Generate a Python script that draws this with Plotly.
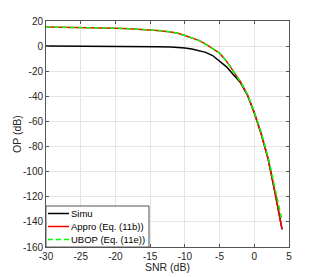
import plotly.graph_objects as go

snr = [-30, -28, -26, -24, -22, -20, -18, -16, -14, -12, -11, -10, -9, -8, -7, -6, -5, -4, -3, -2, -1, 0, 1, 2, 3, 4]
simu = [0.0, 0.0, -0.05, -0.1, -0.15, -0.2, -0.3, -0.4, -0.5, -0.7, -1.0, -1.5, -2.3, -3.5, -5.0, -7.5, -12.0, -16.5, -22.8, -29.0, -38.8, -53, -70, -90, -117, -146]
appro = [15.2, 15.1, 15.0, 14.8, 14.6, 14.3, 13.9, 13.3, 12.5, 11.3, 10.3, 8.4, 6.7, 4.6, 1.6, -1.8, -5.6, -12.0, -19.8, -28.3, -38.5, -53, -70, -90, -117, -146]
ubop = [15.2, 15.1, 15.0, 14.8, 14.6, 14.3, 13.9, 13.3, 12.5, 11.3, 10.3, 8.4, 6.7, 4.6, 1.6, -1.8, -5.6, -12.0, -19.8, -28.3, -38.3, -52.5, -69, -88.5, -113.5, -139]

x_ticks = [-30, -25, -20, -15, -10, -5, 0, 5]
y_ticks = [20, 0, -20, -40, -60, -80, -100, -120, -140, -160]

series_names = ["Simu", "Appro (Eq. (11b))", "UBOP (Eq. (11e))"]
series_colors = ["#000000", "#ff0000", "#00ff00"]
series_dash = ["solid", "solid", "5px,3px"]
series_vals = [simu, appro, ubop]

FONT = "Liberation Sans, Arial"

fig = go.Figure()
for name, vals, col, dash in zip(series_names, series_vals, series_colors, series_dash):
    fig.add_trace(go.Scatter(x=snr, y=vals, mode="lines", name=name,
                             line=dict(color=col, width=1.5, dash=dash)))

axis_common = dict(showline=True, mirror="ticks", linecolor="#555555", linewidth=1,
                   ticks="inside", ticklen=3, tickcolor="#555555",
                   showgrid=True, gridcolor="#e5e5e5", gridwidth=1,
                   zeroline=False, automargin=False,
                   tickfont=dict(family=FONT, size=10, color="#262626"))

# Screen geometry of the axes box (page body has an 8px margin)
L, T, W, H = 46, 21, 243, 226
OFF = 8
px = lambda p: (p - L) / W
py = lambda p: (T + H - p) / H

shapes = [dict(type="rect", xref="paper", yref="paper", x0=0, x1=px(149), y0=0, y1=py(206),
               fillcolor="white", line=dict(color="#555555", width=1), layer="above")]
annotations = []
rows = [213.5, 226.5, 239.5]
for name, col, dash, ry in zip(series_names, series_colors, series_dash, rows):
    shapes.append(dict(type="line", xref="paper", yref="paper", x0=px(48), x1=px(69),
                       y0=py(ry), y1=py(ry), line=dict(color=col, width=1.5, dash=dash),
                       layer="above"))
    annotations.append(dict(text=name, xref="paper", yref="paper", x=px(69), y=py(ry),
                            xanchor="left", yanchor="middle", showarrow=False,
                            font=dict(family=FONT, size=9.5, color="#000000")))

# Axis titles
annotations.append(dict(text="SNR (dB)", xref="paper", yref="paper", x=px(167), y=py(267),
                        xanchor="center", yanchor="middle", showarrow=False,
                        font=dict(family=FONT, size=10.5, color="#262626")))
annotations.append(dict(text="OP (dB)", xref="paper", yref="paper", x=px(17), y=py(134),
                        xanchor="center", yanchor="middle", showarrow=False, textangle=-90,
                        font=dict(family=FONT, size=10.5, color="#262626")))

FW, FH = 320 - OFF, 277 - OFF
fig.update_layout(
    width=FW, height=FH,
    margin=dict(l=L - OFF, r=FW - (L + W - OFF), t=T - OFF, b=FH - (T + H - OFF), pad=0),
    paper_bgcolor="white", plot_bgcolor="white",
    showlegend=False,
    shapes=shapes, annotations=annotations,
    xaxis=dict(range=[-30, 5], tickvals=x_ticks, ticktext=[str(v) for v in x_ticks],
               **axis_common),
    yaxis=dict(range=[-160, 20], tickvals=y_ticks, ticktext=[str(v) for v in y_ticks],
               **axis_common),
)

fig.write_html("out.html")
